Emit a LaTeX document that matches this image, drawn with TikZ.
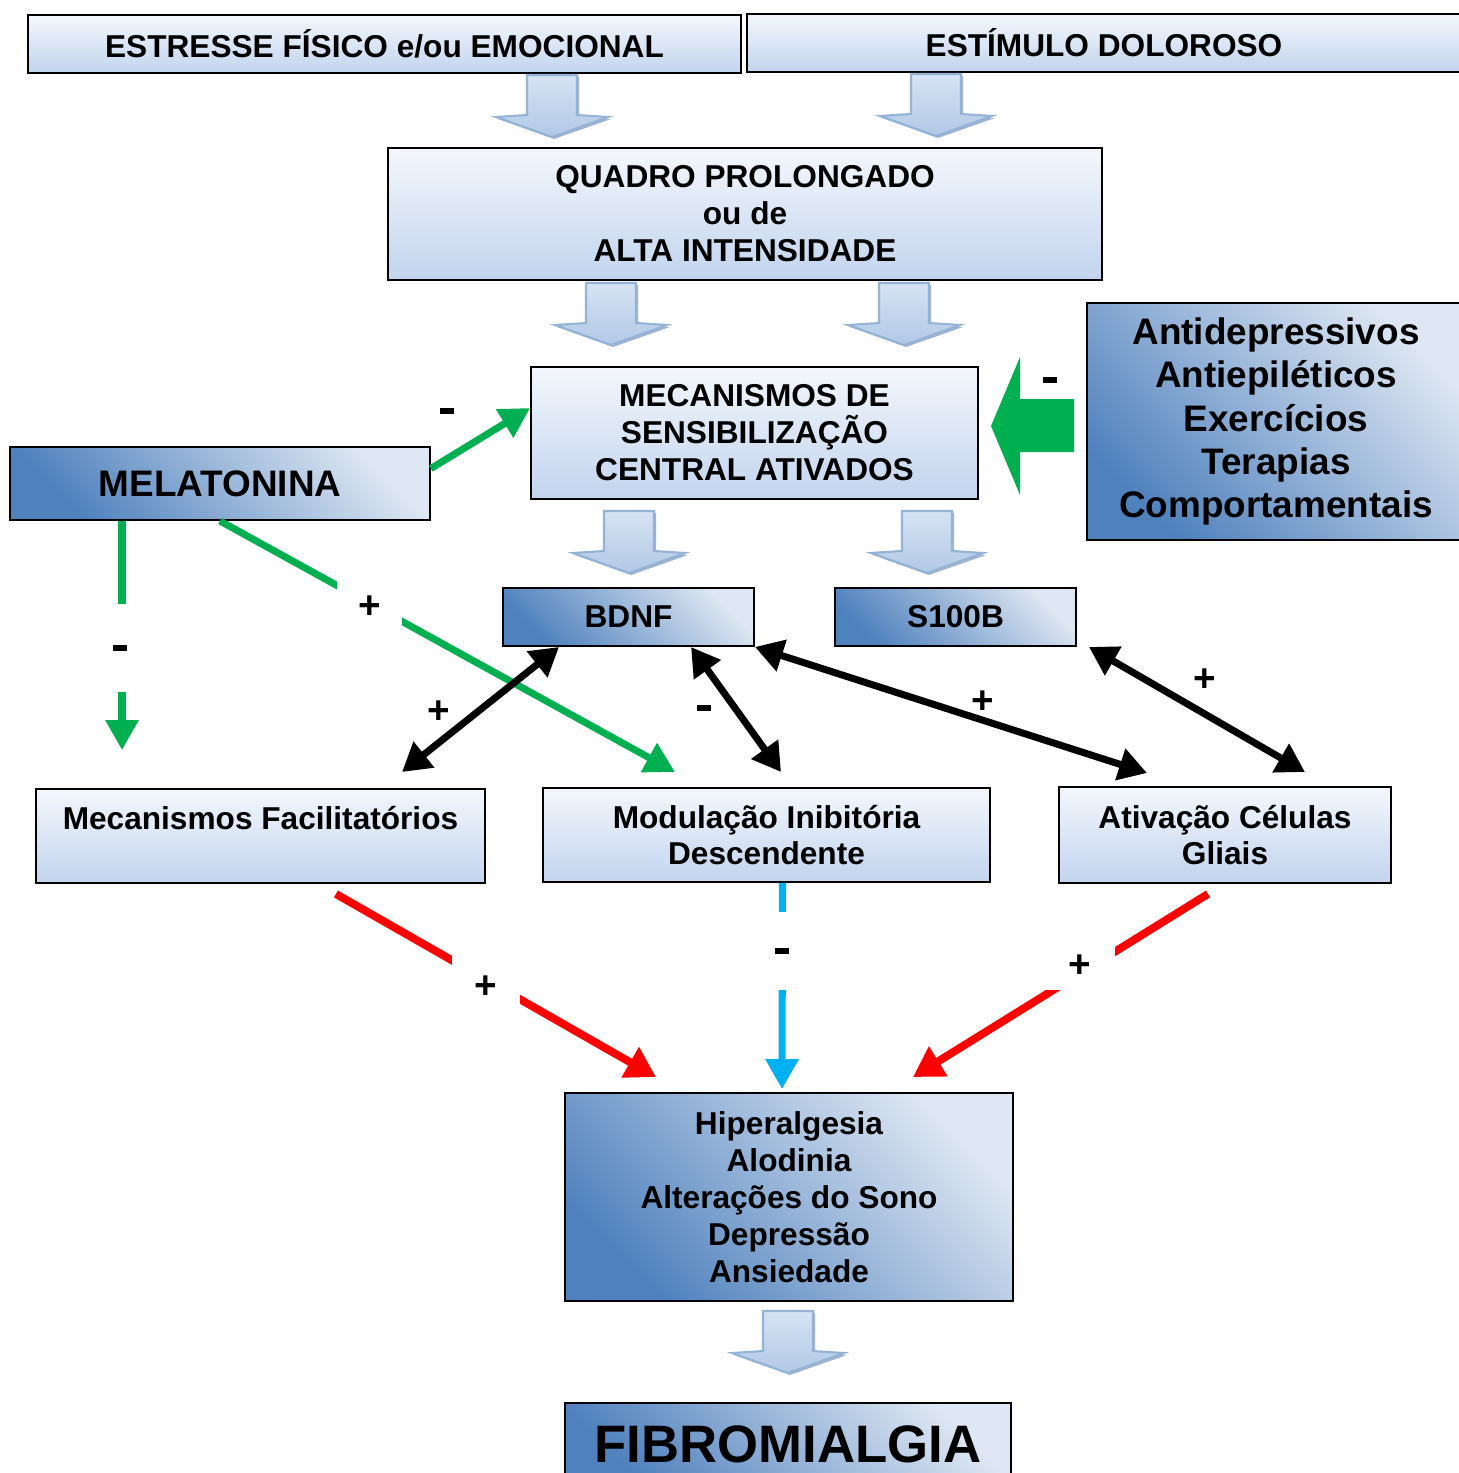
\documentclass[tikz,border=0pt]{standalone}
\usepackage{fontspec}
\setmainfont{Liberation Sans}
\usetikzlibrary{arrows.meta}

\definecolor{lgtop}{RGB}{244,247,252}
\definecolor{lgbot}{RGB}{194,212,238}
\definecolor{dkA}{RGB}{79,129,189}
\definecolor{dkB}{RGB}{222,231,243}
\definecolor{gnc}{RGB}{0,176,80}
\definecolor{rdc}{RGB}{255,0,0}
\definecolor{cyc}{RGB}{0,176,240}
\definecolor{arrline}{RGB}{149,179,215}
\definecolor{arrtop}{RGB}{214,227,243}
\definecolor{arrbot}{RGB}{178,201,230}
\definecolor{arrshadow}{RGB}{160,180,208}

\newcommand{\msign}{\rule{8pt}{3.6pt}}

\tikzset{
  pics/downarr/.style={code={
    \fill[arrshadow] (-22,2) -- (-22,42) -- (-54,44) -- (2,64) -- (59,44) -- (27,42) -- (27,2) -- cycle;
    \path[draw=arrline, line width=1.2pt, top color=arrtop, middle color=white, bottom color=arrbot]
      (-25,0) -- (-25,40) -- (-56,42) -- (0,62) -- (56,42) -- (25,40) -- (25,0) -- cycle;
  }}
}

\begin{document}
\begin{tikzpicture}[x=0.02cm, y=-0.02cm,
  lbox/.style={draw=black, line width=1.1pt, inner sep=0pt, align=center,
               font=\fontsize{18}{21}\selectfont\bfseries,
               top color=lgtop, bottom color=lgbot},
  dbox/.style={draw=black, line width=1.1pt, inner sep=0pt, align=center,
               font=\fontsize{18}{21}\selectfont\bfseries,
               top color=dkB, bottom color=dkA, shading angle=-45},
  sgn/.style={font=\fontsize{22}{24}\selectfont\bfseries},
  gap/.style={sgn, fill=white, inner sep=0pt},
  garr/.style={draw=gnc, line width=4pt, -{Triangle[length=17pt,width=18pt]}},
  rarr/.style={draw=rdc, line width=4.5pt, -{Triangle[length=17pt,width=19pt]}},
  carr/.style={draw=cyc, line width=4pt, -{Triangle[length=17pt,width=18pt]}},
  karr/.style={draw=black, line width=4pt, {Triangle[length=16pt,width=18pt]}-{Triangle[length=16pt,width=18pt]}},
]
\useasboundingbox (0,0) rectangle (1459,1473);

\node[lbox, minimum width=14.26cm, minimum height=1.16cm] (est) at (384.5,44) {ESTRESSE FÍSICO e/ou EMOCIONAL};
\node[lbox, minimum width=14.28cm, minimum height=1.16cm] (dol) at (1104,43) {ESTÍMULO DOLOROSO};
\node[lbox, minimum width=14.28cm, minimum height=2.64cm] (quad) at (745,214) {QUADRO PROLONGADO\\ou de\\ALTA INTENSIDADE};
\node[lbox, minimum width=8.94cm, minimum height=2.64cm] (mecs) at (754.5,433) {MECANISMOS DE\\SENSIBILIZAÇÃO\\CENTRAL ATIVADOS};
\node[dbox, minimum width=7.56cm, minimum height=4.74cm, font=\fontsize{21}{24.5}\selectfont\bfseries] (antid) at (1276,421.5)
  {Antidepressivos\\Antiepiléticos\\Exercícios\\Terapias\\Comportamentais};
\node[dbox, minimum width=8.4cm, minimum height=1.46cm, font=\fontsize{21}{24.5}\selectfont\bfseries] (mel) at (220,483.5) {MELATONINA};
\node[dbox, minimum width=5.02cm, minimum height=1.16cm] (bdnf) at (628.5,617) {BDNF};
\node[dbox, minimum width=4.82cm, minimum height=1.16cm] (s100) at (955.5,617) {S100B};
\node[lbox, minimum width=8.98cm, minimum height=1.88cm] (mfac) at (260.5,836) {Mecanismos Facilitatórios\\\mbox{}};
\node[lbox, minimum width=8.94cm, minimum height=1.88cm] (mod) at (766.5,835) {Modulação Inibitória\\Descendente};
\node[lbox, minimum width=6.64cm, minimum height=1.92cm] (ati) at (1225,835) {Ativação Células\\Gliais};
\node[dbox, minimum width=8.96cm, minimum height=4.16cm] (hip) at (789,1197)
  {Hiperalgesia\\Alodinia\\Alterações do Sono\\Depressão\\Ansiedade};
\node[dbox, minimum width=8.92cm, minimum height=1.64cm, font=\fontsize{30}{34}\selectfont\bfseries] (fib) at (788,1444) {FIBROMIALGIA};

\pic at (552,75) {downarr};
\pic at (936,74) {downarr};
\pic at (611,283) {downarr};
\pic at (904,283) {downarr};
\pic at (629,511) {downarr};
\pic at (927,511) {downarr};
\pic at (788,1311) {downarr};

\fill[gnc] (1074,399) -- (1020,399) -- (1020,357) -- (991,426) -- (1020,495) -- (1020,452) -- (1074,452) -- cycle;
\node[sgn] (s1) at (1050,380) {\msign};

\coordinate (g1) at (122,750);
\coordinate (g2) at (675,772);
\coordinate (k1) at (402,772);
\coordinate (k2) at (781,772);
\coordinate (k3) at (1147,773);
\coordinate (k4) at (1305,772);

\draw[garr] ([yshift=0.3cm]mel.east) -- ([yshift=0.5cm]mecs.west);
\draw[garr] (mel.south -| g1) -- (g1);
\draw[garr] (mel.south) -- (g2);
\draw[karr] ([xshift=1.14cm]bdnf.south west) -- (k1);
\draw[karr] ([xshift=3.78cm]bdnf.south west) -- (k2);
\draw[karr] (bdnf.south east) -- (k3);
\draw[karr] ([xshift=0.24cm]s100.south east) -- (k4);
\draw[rarr] ([xshift=-3cm,yshift=-0.2cm]mfac.south east) -- ([xshift=1.84cm,yshift=0.3cm]hip.north west);
\draw[carr] ([xshift=0.32cm]mod.south) -- ([xshift=-0.14cm,yshift=0.06cm]hip.north);
\draw[rarr] ([xshift=-0.34cm,yshift=-0.2cm]ati.south) -- ([xshift=-2.02cm,yshift=0.3cm]hip.north east);

\node[sgn] (s2) at (447,411) {\msign};
\node[gap, minimum width=0.6cm, minimum height=1.76cm] (s3) at (120,648) {\msign};
\node[gap, minimum width=1.3cm, minimum height=1.08cm] (s4) at (369.5,607) {+};
\node[sgn] (s5) at (439,712) {+};
\node[sgn] (s6) at (704,708) {\msign};
\node[sgn] (s7) at (983,702) {+};
\node[sgn] (s8) at (1205,680) {+};
\node[gap, minimum width=1.36cm, minimum height=1.28cm] (s9) at (486,987) {+};
\node[gap, minimum width=0.8cm, minimum height=1.56cm] (s10) at (782,951) {\msign};
\node[gap, minimum width=1.4cm, minimum height=0.94cm] (s11) at (1080,966.5) {+};
\end{tikzpicture}
\end{document}
